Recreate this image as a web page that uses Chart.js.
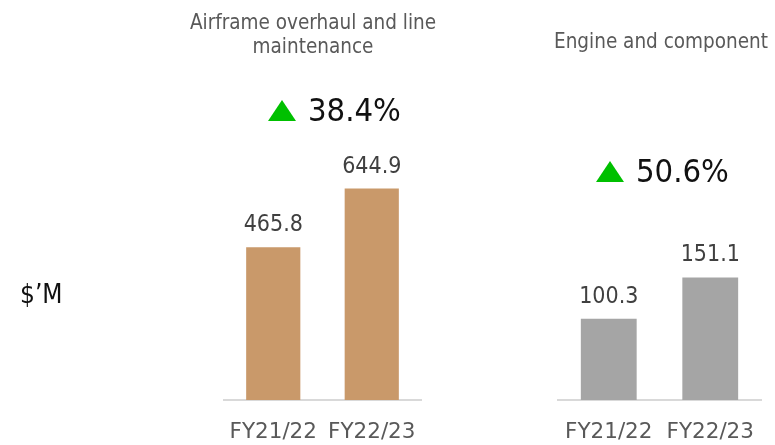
<!DOCTYPE html>
<html>
<head>
<meta charset="utf-8">
<script src="https://cdn.jsdelivr.net/npm/chart.js@4.4.0/dist/chart.umd.min.js"></script>
<style>
    html, body { margin: 0; padding: 0; background: #fff; }
    #wrap { position: relative; width: 775px; height: 445px; }
    #wrap canvas { position: absolute; left: 0; top: 0; }
</style>
</head>
<body>
<div id="wrap">
    <canvas id="airframeChart" width="775" height="445"></canvas>
    <canvas id="engineChart" width="775" height="445"></canvas>
</div>
<script>
const categories = ['FY21/22', 'FY22/23'];
const airframeValues = [465.8, 644.9];
const engineValues = [100.3, 151.1];
const airframeTitle = ['Airframe overhaul and line', 'maintenance'];
const engineTitle = ['Engine and component'];
const airframeChange = '38.4%';
const engineChange = '50.6%';
const unitLabel = '$\u2019M';

const FONT = '"DejaVu Sans Condensed", "DejaVu Sans", sans-serif';
const AXIS_FONT = '"DejaVu Sans", sans-serif';

document.addEventListener('DOMContentLoaded', function () {

    // draws value labels, panel title, growth arrow and unit text
    const panelText = {
        id: 'panelText',
        afterDatasetsDraw(chart, args, opts) {
            const ctx = chart.ctx;
            const meta = chart.getDatasetMeta(0);
            ctx.save();
            ctx.textBaseline = 'alphabetic';

            ctx.font = '23px ' + FONT;
            ctx.fillStyle = '#404040';
            ctx.textAlign = 'center';
            meta.data.forEach((bar, i) => {
                ctx.fillText(chart.data.datasets[0].data[i].toFixed(1), bar.x, bar.y - 16);
            });

            ctx.font = '20.5px ' + FONT;
            ctx.fillStyle = '#595959';
            opts.title.forEach((line, i) => {
                ctx.fillText(line, opts.titleX, opts.titleY + i * 24);
            });

            // green up triangle + change
            const tx = opts.arrowX, ty = opts.changeY;
            ctx.fillStyle = '#00C000';
            ctx.beginPath();
            ctx.moveTo(tx, ty);
            ctx.lineTo(tx + 28, ty);
            ctx.lineTo(tx + 14, ty - 21);
            ctx.closePath();
            ctx.fill();

            ctx.font = '32.5px ' + FONT;
            ctx.fillStyle = '#111';
            ctx.textAlign = 'left';
            ctx.fillText(opts.change, tx + 40, ty);

            if (opts.unit) {
                ctx.font = '26px ' + FONT;
                ctx.fillText(opts.unit, 20, 303);
            }
            ctx.restore();
        }
    };

    function makeChart(id, values, color, yMax, pad, textOpts) {
        const ctx = document.getElementById(id).getContext('2d');
        return new Chart(ctx, {
            type: 'bar',
            data: {
                labels: categories,
                datasets: [{
                    data: values,
                    backgroundColor: color,
                    borderWidth: 0,
                    barPercentage: 0.55,
                    categoryPercentage: 1
                }]
            },
            options: {
                responsive: false,
                animation: false,
                layout: { padding: pad },
                plugins: {
                    legend: { display: false },
                    tooltip: { enabled: false },
                    panelText: textOpts
                },
                scales: {
                    x: {
                        grid: { display: false },
                        border: { display: true, color: '#d9d9d9', width: 2 },
                        ticks: { color: '#595959', font: { family: AXIS_FONT, size: 21.5 }, padding: 12 },
                        afterFit(scale) { scale.height = 45; }
                    },
                    y: { display: false, min: 0, max: yMax }
                }
            },
            plugins: [panelText]
        });
    }

    makeChart('airframeChart', airframeValues, '#C9996A', 915,
        { left: 224, right: 354, top: 100, bottom: 0 },
        { title: airframeTitle, titleX: 313, titleY: 29, arrowX: 268, changeY: 121, change: airframeChange, unit: unitLabel });

    makeChart('engineChart', engineValues, '#A5A5A5', 370,
        { left: 558, right: 14, top: 100, bottom: 0 },
        { title: engineTitle, titleX: 661, titleY: 48, arrowX: 596, changeY: 182, change: engineChange });
});
</script>
</body>
</html>
